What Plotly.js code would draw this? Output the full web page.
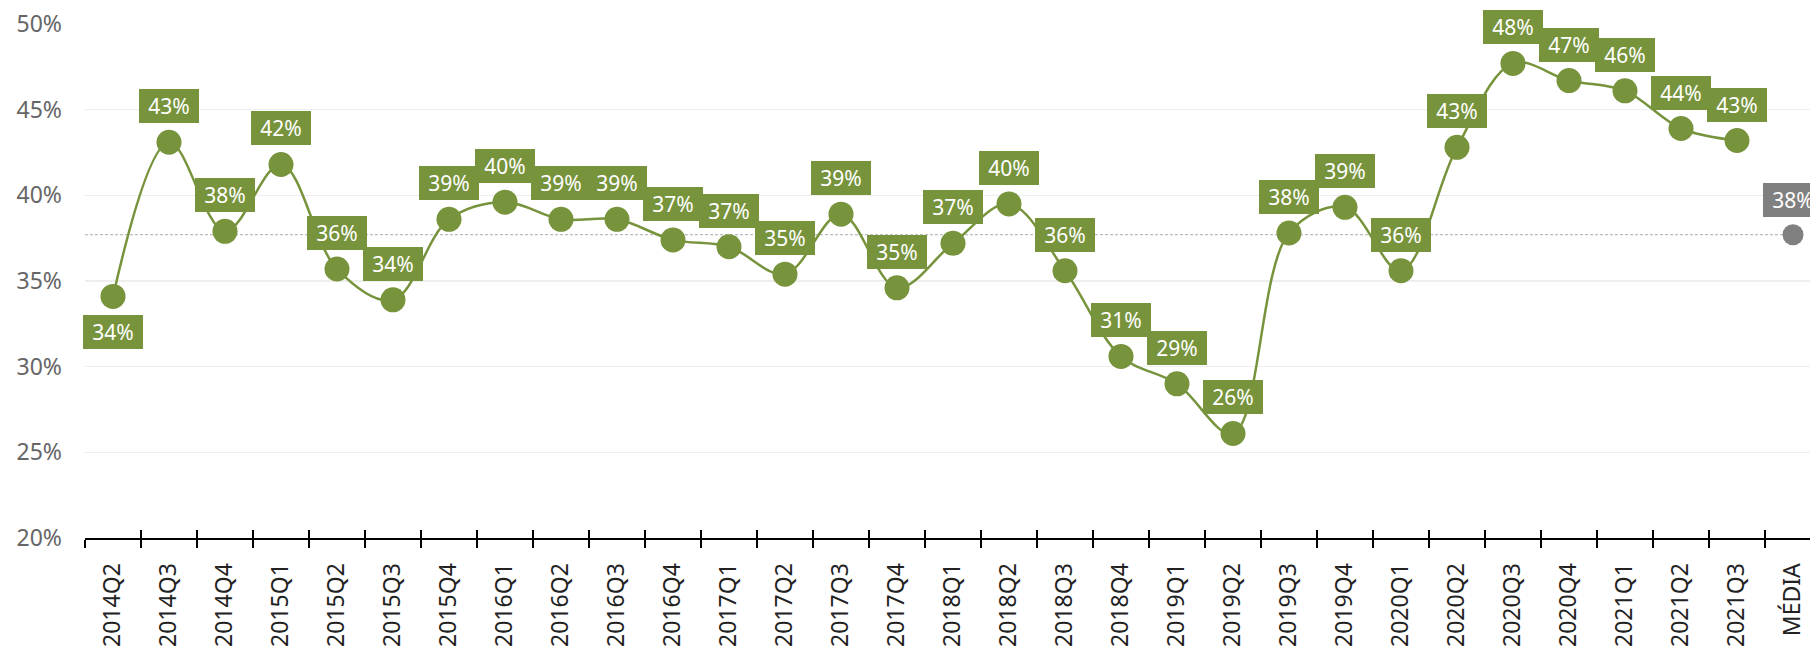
<!DOCTYPE html>
<html>
<head>
<meta charset="utf-8">
<script src="https://cdn.plot.ly/plotly-3.0.1.min.js"></script>
<style>
  html, body { margin: 0; padding: 0; background: #ffffff; overflow: hidden; }
  #chart { width: 1810px; height: 650px; }
</style>
</head>
<body>
<div id="chart"></div>
<script>
// ---- data (values in %) ----
const quarters = [
  '2014Q2','2014Q3','2014Q4','2015Q1','2015Q2','2015Q3','2015Q4','2016Q1',
  '2016Q2','2016Q3','2016Q4','2017Q1','2017Q2','2017Q3','2017Q4','2018Q1',
  '2018Q2','2018Q3','2018Q4','2019Q1','2019Q2','2019Q3','2019Q4','2020Q1',
  '2020Q2','2020Q3','2020Q4','2021Q1','2021Q2','2021Q3'
];
const values = [
  34.1, 43.1, 37.9, 41.8, 35.7, 33.9, 38.6, 39.6,
  38.6, 38.6, 37.4, 37.0, 35.4, 38.9, 34.6, 37.2,
  39.5, 35.6, 30.6, 29.0, 26.1, 37.8, 39.3, 35.6,
  42.8, 47.7, 46.7, 46.1, 43.9, 43.2
];
const meanLabel = 'MÉDIA';
const meanValue = 37.7;
const yTicks = [20, 25, 30, 35, 40, 45, 50];

// ---- styling ----
const GREEN = '#77933c';
const GRAY = '#808080';
const FONT = 'Noto Sans, Open Sans, sans-serif';
const allCats = quarters.concat([meanLabel]);
const xRange = [-0.5, -0.5 + 1725 / 56];

const traces = [
  {
    x: quarters, y: values, type: 'scatter', mode: 'lines+markers',
    line: { color: GREEN, width: 2.5, shape: 'spline', smoothing: 1 },
    marker: { color: GREEN, size: 25 },
    hoverinfo: 'skip', showlegend: false, cliponaxis: false
  },
  {
    x: [meanLabel], y: [meanValue], type: 'scatter', mode: 'markers',
    marker: { color: GRAY, size: 21 },
    hoverinfo: 'skip', showlegend: false, cliponaxis: false
  },
  {
    // invisible helper trace so the overlay axis knows the categories (for the upward tick halves)
    x: allCats, y: values.concat([meanValue]), xaxis: 'x2', type: 'scatter', mode: 'markers',
    marker: { opacity: 0, size: 1 }, hoverinfo: 'skip', showlegend: false
  }
];

const annotations = values.map((v, i) => ({
  x: quarters[i], y: v, xref: 'x', yref: 'y',
  text: Math.round(v) + '%', showarrow: false,
  xanchor: 'center', yanchor: 'middle',
  yshift: i === 0 ? -36 : 36,
  bgcolor: GREEN, borderpad: 1, borderwidth: 0,
  width: 58, height: 32,
  font: { family: FONT, size: 21, color: '#ffffff' }
}));
annotations.push({
  x: meanLabel, y: meanValue, xref: 'x', yref: 'y',
  text: Math.round(meanValue) + '%', showarrow: false,
  xanchor: 'center', yanchor: 'middle', yshift: 35,
  bgcolor: GRAY, borderpad: 1, borderwidth: 0,
  width: 58, height: 32,
  font: { family: FONT, size: 21, color: '#ffffff' }
});

const layout = {
  width: 1810, height: 650,
  margin: { l: 85, r: 0, t: 24, b: 112, pad: 0 },
  paper_bgcolor: '#ffffff', plot_bgcolor: '#ffffff',
  font: { family: FONT },
  showlegend: false,
  xaxis: {
    type: 'category', categoryorder: 'array', categoryarray: allCats,
    range: xRange, automargin: false,
    showgrid: false, zeroline: false,
    showline: true, linecolor: '#000000', linewidth: 2,
    ticks: 'outside', ticklen: 8, tickwidth: 1.5, tickcolor: '#000000',
    tickson: 'boundaries',
    tickangle: -90, ticklabelstandoff: 14,
    tickfont: { family: FONT, size: 23, color: '#222222' }
  },
  xaxis2: {
    type: 'category', categoryorder: 'array', categoryarray: allCats,
    range: xRange, overlaying: 'x', anchor: 'y', side: 'bottom',
    showgrid: false, zeroline: false, showline: false,
    showticklabels: false,
    ticks: 'inside', ticklen: 8, tickwidth: 1.5, tickcolor: '#000000',
    tickson: 'boundaries', automargin: false
  },
  yaxis: {
    range: [20, 50], tickmode: 'array', tickvals: yTicks,
    ticktext: yTicks.map(t => t + '%'),
    showgrid: true, gridcolor: '#eeeeee', gridwidth: 1.5,
    zeroline: false, showline: false, ticks: '',
    ticklabelstandoff: 22, automargin: false,
    tickfont: { family: FONT, size: 23, color: '#666666' }
  },
  shapes: [{
    type: 'line', xref: 'x', yref: 'y', layer: 'below',
    x0: xRange[0], x1: allCats.length - 1, y0: meanValue, y1: meanValue,
    line: { color: '#aaaaaa', width: 1, dash: '3px,2px' }
  }],
  annotations: annotations
};

Plotly.newPlot('chart', traces, layout, { staticPlot: true, displayModeBar: false });
</script>
</body>
</html>
